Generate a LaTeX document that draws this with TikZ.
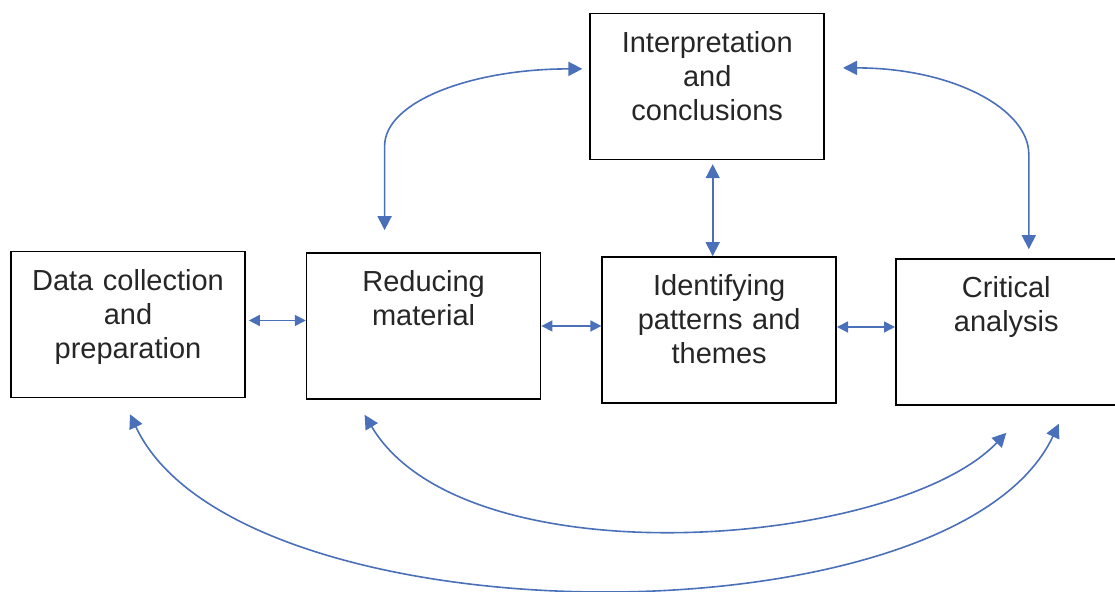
\documentclass[tikz,border=0pt]{standalone}
\usepackage{fontspec}
\setmainfont{Liberation Sans}
\usetikzlibrary{arrows.meta,positioning}
\definecolor{linkblue}{RGB}{74,112,186}

\begin{document}
\begin{tikzpicture}[x=0.5pt, y=0.5pt,
  box/.style={draw, line width=0.8pt, align=center, inner sep=0pt,
    text width=117pt, text height=19.5pt, text depth=53.5pt,
    font=\fontsize{14.5}{17}\selectfont, text=black!85},
  link/.style={<->, >={Triangle[length=5.5pt,width=5.5pt]}, line width=0.8pt,
    draw=linkblue},
  loop/.style={link, >={Triangle[length=7pt,width=7pt]}}
]
  \useasboundingbox (0,0) rectangle (1115,592);
  \node[box] (dcp) at (128,267.5) {Data collection\\and\\preparation};
  \node[box, right=30pt of dcp, yshift=-0.75pt] (red) {Reducing\\material};
  \node[box, right=30pt of red, yshift=-2pt] (idp) {Identifying\\patterns and\\themes};
  \node[box, text width=110.5pt, right=29pt of idp, yshift=-1pt] (cra) {Critical\\analysis};
  \node[box, above=48pt of idp, xshift=-6pt] (intc) {Interpretation\\and\\conclusions};

  % neighbours
  \draw[link, shorten <=1.5pt] ([yshift=2pt]dcp.east) -- ([yshift=2pt]dcp.east -| red.west);
  \draw[link] (red.east) -- (red.east -| idp.west);
  \draw[link] ([yshift=1.5pt]idp.east) -- ([yshift=1.5pt]idp.east -| cra.west);
  \draw[loop, shorten <=2pt] ([xshift=2.75pt]intc.south) -- ([xshift=2.75pt]intc.south |- idp.north);

  % loops over the top
  \draw[loop] ([xshift=-19.5pt,yshift=11pt]red.north) -- ([xshift=-19.5pt,yshift=53pt]red.north)
    .. controls +(0,45) and +(-110,0) .. ([xshift=-3.5pt,yshift=8.75pt]intc.west);
  \draw[loop] ([xshift=9pt,yshift=9.25pt]intc.east)
    .. controls +(110,0) and +(0,45) .. ([xshift=11.25pt,yshift=52pt]cra.north)
    -- ([xshift=11.25pt,yshift=4.5pt]cra.north);

  % loops underneath
  \draw[loop] ([xshift=-29.5pt,yshift=-7.5pt]red.south)
    .. controls +(100,-168) and +(-110,-115) .. ([yshift=-13.5pt]cra.south);
  \draw[loop] ([xshift=1pt,yshift=-8pt]dcp.south)
    .. controls +(107,-229) and +(-105,-224) .. ([xshift=26.25pt,yshift=-9pt]cra.south);
\end{tikzpicture}
\end{document}
